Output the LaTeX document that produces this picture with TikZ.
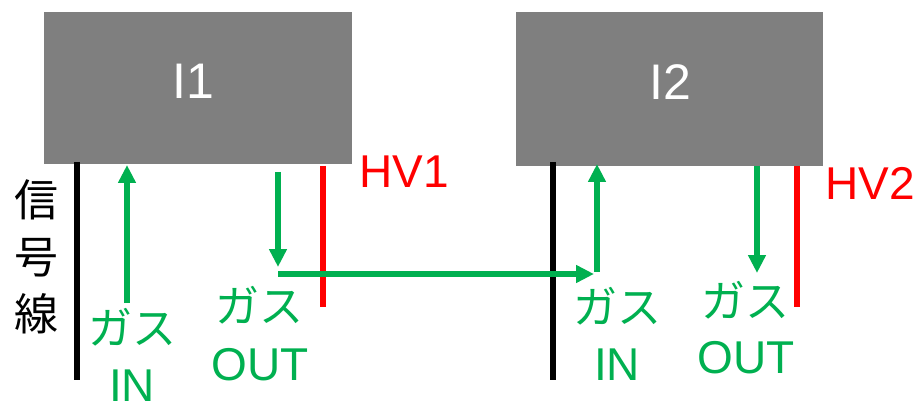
\documentclass[tikz,border=0pt]{standalone}
\usepackage{fontspec}
\setmainfont{Liberation Sans}
\newfontfamily\jpfont{Noto Sans CJK JP}
\usetikzlibrary{arrows.meta}
\definecolor{gasgreen}{HTML}{00B050}
\definecolor{boxgray}{HTML}{7F7F7F}
\definecolor{hvred}{HTML}{FF0000}
\tikzset{
  x=1pt, y=-1pt,
  unitbox/.style={fill=boxgray, draw=none, inner sep=0pt},
  boxlabel/.style={text=white, font=\fontsize{50}{54}\selectfont, inner sep=0pt, anchor=base},
  sigline/.style={line width=5.5pt, black},
  hvline/.style={line width=5.5pt, hvred},
  gasarrow/.style={line width=5.5pt, gasgreen, -{Triangle[width=17pt,length=18pt]}},
  gasline/.style={line width=5.5pt, gasgreen},
  jplabel/.style={text=gasgreen, font=\jpfont\fontsize{44}{48}\selectfont, inner sep=0pt, anchor=center},
  enlabel/.style={text=gasgreen, font=\fontsize{46}{50}\selectfont, inner sep=0pt, anchor=base},
  hvlabel/.style={text=hvred, font=\fontsize{46}{50}\selectfont, inner sep=0pt, anchor=base},
}
\begin{document}
\begin{tikzpicture}
\useasboundingbox (0,0) rectangle (919,401);
% boxes
\node[unitbox, minimum width=308pt, minimum height=152pt] (b1) at (198,88) {};
\node[unitbox, minimum width=307pt, minimum height=154pt] (b2) at (669.5,89) {};
\node[boxlabel] (t1) at (193,99) {I1};
\node[boxlabel] (t2) at (670,100) {I2};
% signal lines
\coordinate (s1a) at (77,162); \coordinate (s1b) at (77,380);
\coordinate (s2a) at (553,162); \coordinate (s2b) at (553,380);
\draw[sigline] (s1a) -- (s1b);
\draw[sigline] (s2a) -- (s2b);
% HV lines
\coordinate (h1a) at (323,166); \coordinate (h1b) at (323,307);
\coordinate (h2a) at (797,166); \coordinate (h2b) at (797,307);
\draw[hvline] (h1a) -- (h1b);
\draw[hvline] (h2a) -- (h2b);
% gas arrows
\coordinate (in1a) at (127,303); \coordinate (in1b) at (127,165);
\draw[gasarrow] (in1a) -- (in1b);
\coordinate (out1a) at (278,172); \coordinate (out1b) at (278,267);
\draw[gasarrow] (out1a) -- (out1b);
\coordinate (linka) at (278,274); \coordinate (linkb) at (594,274);
\draw[gasarrow] (linka) -- (linkb);
\coordinate (in2a) at (597,271.5); \coordinate (in2b) at (597,164);
\draw[gasarrow] (in2a) -- (in2b);
\coordinate (out2a) at (757,166); \coordinate (out2b) at (757,273);
\draw[gasarrow] (out2a) -- (out2b);
% labels
\node[font=\jpfont\fontsize{44}{57}\selectfont, align=center, inner sep=0pt] (sig) at (37,257) {信\\号\\線};
\node[jplabel] (g1) at (132,327) {ガス};
\node[enlabel] (e1) at (132,401) {IN};
\node[jplabel] (g2) at (259,305) {ガス};
\node[enlabel] (e2) at (260,380) {OUT};
\node[jplabel] (g3) at (617,306) {ガス};
\node[enlabel] (e3) at (617,380) {IN};
\node[jplabel] (g4) at (745,300) {ガス};
\node[enlabel] (e4) at (746,373) {OUT};
\node[hvlabel] (hv1) at (404,188) {HV1};
\node[hvlabel] (hv2) at (870,200) {HV2};
\end{tikzpicture}
\end{document}
